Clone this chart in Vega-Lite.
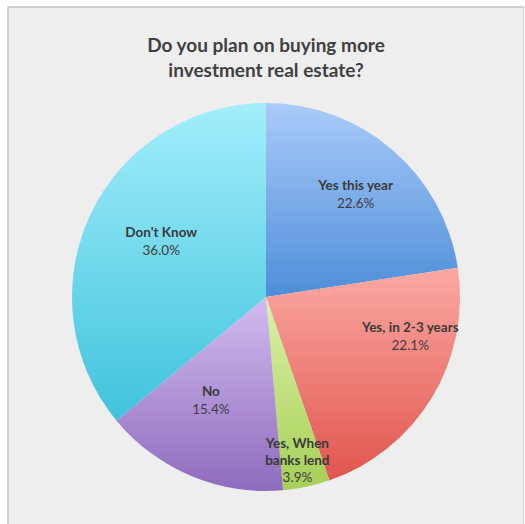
{
  "$schema": "https://vega.github.io/schema/vega-lite/v6.json",
  "autosize": "none",
  "padding": {"left": 8, "top": 7, "right": 0, "bottom": 0},
  "width": 516,
  "height": 580,
  "background": "white",
  "view": {"fill": "#eeeeee", "stroke": "#c4c4c4", "strokeWidth": 1.5},
  "config": {"font": "Lato"},
  "title": {
    "text": ["Do you plan on buying more", "investment real estate?"],
    "font": "Lato",
    "fontSize": 19,
    "fontWeight": "bold",
    "color": "#404040",
    "anchor": "middle",
    "lineHeight": 25,
    "offset": -74
  },
  "data": {
    "values": [
      {"label": "Yes this year", "share": 0.226, "idx": 1},
      {"label": "Yes, in 2-3 years", "share": 0.221, "idx": 2},
      {"label": "Yes, When\nbanks lend", "share": 0.039, "idx": 3},
      {"label": "No", "share": 0.154, "idx": 4},
      {"label": "Don't Know", "share": 0.36, "idx": 5}
    ]
  },
  "encoding": {
    "theta": {"field": "share", "type": "quantitative", "stack": true},
    "order": {"field": "idx", "type": "quantitative"}
  },
  "layer": [
    {
      "mark": {"type": "arc", "outerRadius": 194},
      "encoding": {
        "fill": {
          "condition": [
            {"test": "datum.idx == 1", "value": {"gradient": "linear", "x1": 0, "y1": 0, "x2": 0, "y2": 1, "stops": [{"offset": 0, "color": "#aacbfa"}, {"offset": 1, "color": "#4d8ed8"}]}},
            {"test": "datum.idx == 2", "value": {"gradient": "linear", "x1": 0, "y1": 0, "x2": 0, "y2": 1, "stops": [{"offset": 0, "color": "#fba9a3"}, {"offset": 1, "color": "#e0554d"}]}},
            {"test": "datum.idx == 3", "value": {"gradient": "linear", "x1": 0, "y1": 0, "x2": 0, "y2": 1, "stops": [{"offset": 0, "color": "#daf2a4"}, {"offset": 1, "color": "#a6cf57"}]}},
            {"test": "datum.idx == 4", "value": {"gradient": "linear", "x1": 0, "y1": 0, "x2": 0, "y2": 1, "stops": [{"offset": 0, "color": "#d2bcef"}, {"offset": 1, "color": "#8e6bbd"}]}}
          ],
          "value": {"gradient": "linear", "x1": 0, "y1": 0, "x2": 0, "y2": 1, "stops": [{"offset": 0, "color": "#a3eefb"}, {"offset": 1, "color": "#3fc3dc"}]}
        }
      }
    },
    {
      "mark": {"type": "text", "fontSize": 13.5, "fontWeight": "bold", "color": "#3a3a3a", "baseline": "middle", "radius": 136, "dx": 1, "dy": -8},
      "encoding": {"text": {"condition": {"test": "datum.idx == 1", "field": "label"}, "value": ""}}
    },
    {
      "mark": {"type": "text", "fontSize": 13.5, "color": "#404040", "baseline": "middle", "radius": 136, "dx": 1, "dy": 10},
      "encoding": {"text": {"condition": {"test": "datum.idx == 1", "field": "share", "type": "quantitative", "format": ".1%"}, "value": ""}}
    },
    {
      "mark": {"type": "text", "fontSize": 13.5, "fontWeight": "bold", "color": "#3a3a3a", "baseline": "middle", "radius": 144, "dx": 21, "dy": -43},
      "encoding": {"text": {"condition": {"test": "datum.idx == 2", "field": "label"}, "value": ""}}
    },
    {
      "mark": {"type": "text", "fontSize": 13.5, "color": "#404040", "baseline": "middle", "radius": 144, "dx": 21, "dy": -25},
      "encoding": {"text": {"condition": {"test": "datum.idx == 2", "field": "share", "type": "quantitative", "format": ".1%"}, "value": ""}}
    },
    {
      "mark": {"type": "text", "fontSize": 13.5, "fontWeight": "bold", "color": "#3a3a3a", "baseline": "middle", "lineBreak": "\n", "lineHeight": 17, "radius": 150, "dx": 0, "dy": 0},
      "encoding": {"text": {"condition": {"test": "datum.idx == 3", "field": "label"}, "value": ""}}
    },
    {
      "mark": {"type": "text", "fontSize": 13.5, "color": "#404040", "baseline": "middle", "radius": 184, "dx": -7, "dy": 1},
      "encoding": {"text": {"condition": {"test": "datum.idx == 3", "field": "share", "type": "quantitative", "format": ".1%"}, "value": ""}}
    },
    {
      "mark": {"type": "text", "fontSize": 13.5, "fontWeight": "bold", "color": "#3a3a3a", "baseline": "middle", "radius": 117, "dx": -10, "dy": -13},
      "encoding": {"text": {"condition": {"test": "datum.idx == 4", "field": "label"}, "value": ""}}
    },
    {
      "mark": {"type": "text", "fontSize": 13.5, "color": "#404040", "baseline": "middle", "radius": 117, "dx": -10, "dy": 5},
      "encoding": {"text": {"condition": {"test": "datum.idx == 4", "field": "share", "type": "quantitative", "format": ".1%"}, "value": ""}}
    },
    {
      "mark": {"type": "text", "fontSize": 13.5, "fontWeight": "bold", "color": "#3a3a3a", "baseline": "middle", "radius": 118, "dx": 2, "dy": -14},
      "encoding": {"text": {"condition": {"test": "datum.idx == 5", "field": "label"}, "value": ""}}
    },
    {
      "mark": {"type": "text", "fontSize": 13.5, "color": "#404040", "baseline": "middle", "radius": 118, "dx": 2, "dy": 4},
      "encoding": {"text": {"condition": {"test": "datum.idx == 5", "field": "share", "type": "quantitative", "format": ".1%"}, "value": ""}}
    }
  ]
}
